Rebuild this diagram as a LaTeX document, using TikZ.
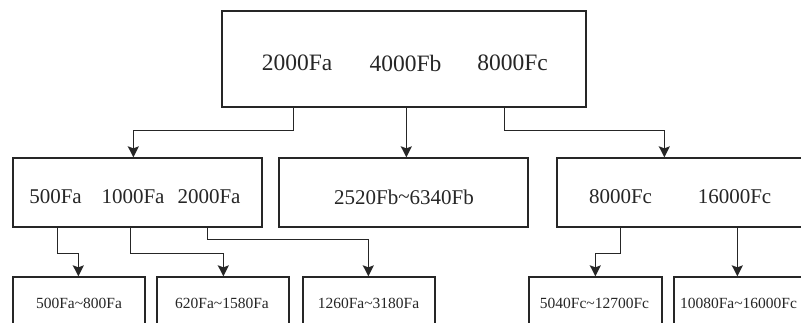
\documentclass[tikz,border=0pt]{standalone}
\usepackage{fontspec}
\setmainfont{Liberation Serif}
\usetikzlibrary{arrows.meta}
\definecolor{ink}{HTML}{262626}
\tikzset{
  box/.style={draw=ink, line width=1.3pt, rectangle, inner sep=0pt},
  big/.style={font=\fontsize{23.5}{26}\selectfont, text=ink, inner sep=0pt},
  mid/.style={font=\fontsize{21}{24}\selectfont, text=ink, inner sep=0pt},
  small/.style={font=\fontsize{15.5}{18}\selectfont, text=ink, inner sep=0pt},
  arr/.style={draw=ink, line width=1.5pt, -{Stealth[length=11pt,width=11pt,inset=2pt]}}
}
\begin{document}
\begin{tikzpicture}[x=1pt,y=-1pt]
\useasboundingbox (0,0) rectangle (801,322);
\clip (0,0) rectangle (801,322);
\fill[white] (0,0) rectangle (801,322);
% boxes
\node[box, minimum width=364pt, minimum height=96pt] (top) at (404,59) {};
\node[box, minimum width=249pt, minimum height=69pt] (b1) at (137.5,192.5) {};
\node[box, minimum width=249pt, minimum height=69pt] (b2) at (403.5,192.5) {};
\node[box, minimum width=293pt, minimum height=69pt] (b3) at (703.5,192.5) {};
\node[box, minimum width=132pt, minimum height=63pt] (ba) at (79,308.5) {};
\node[box, minimum width=132pt, minimum height=63pt] (bb) at (223,308.5) {};
\node[box, minimum width=132pt, minimum height=63pt] (bc) at (369,308.5) {};
\node[box, minimum width=133pt, minimum height=63pt] (bd) at (595.5,308.5) {};
\node[box, minimum width=156pt, minimum height=63pt] (be) at (752,308.5) {};
% texts
\node[big] (t1) at (297,63) {2000Fa};
\node[big] (t2) at (405.5,63) {4000Fb};
\node[big] (t3) at (512.5,63) {8000Fc};
\node[mid] (m1) at (55.5,197) {500Fa};
\node[mid] (m2) at (133,197) {1000Fa};
\node[mid] (m3) at (209,197) {2000Fa};
\node[mid] (m4) at (404,197) {2520Fb\raisebox{0.5pt}{\char`\~}6340Fb};
\node[mid] (m5) at (620.5,197) {8000Fc};
\node[mid] (m6) at (734.5,197) {16000Fc};
\node[small] (s1) at (79,303) {500Fa\char`\~800Fa};
\node[small] (s2) at (222,303) {620Fa\char`\~1580Fa};
\node[small] (s3) at (368.5,303) {1260Fa\char`\~3180Fa};
\node[small] (s4) at (594.5,303) {5040Fc\char`\~12700Fc};
\node[small] (s5) at (738.5,303) {10080Fa\char`\~16000Fc};
% connectors
\draw[arr] ([xshift=72pt]top.south west) -- ++(0,23) -| ([xshift=121pt]b1.north west);
\draw[arr] ([xshift=185pt]top.south west) -- ([xshift=185pt]top.south west |- b2.north);
\draw[arr] ([xshift=283pt]top.south west) -- ++(0,23) -| ([xshift=108pt]b3.north west);
\draw[arr] ([xshift=45pt]b1.south west) -- ++(0,26) -| ([xshift=66pt]ba.north west);
\draw[arr] ([xshift=118pt]b1.south west) -- ++(0,26) -| ([xshift=67pt]bb.north west);
\draw[arr] ([xshift=195pt]b1.south west) -- ++(0,12) -| ([xshift=66pt]bc.north west);
\draw[arr] ([xshift=64pt]b3.south west) -- ++(0,26) -| ([xshift=67pt]bd.north west);
\draw[arr] ([xshift=181pt]b3.south west) -- ([xshift=181pt]b3.south west |- be.north);
\end{tikzpicture}
\end{document}
